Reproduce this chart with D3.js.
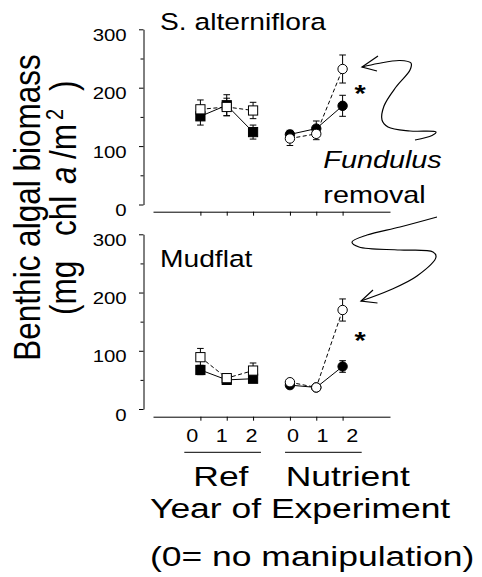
<!DOCTYPE html>
<html>
<head>
<meta charset="utf-8">
<script src="https://cdn.jsdelivr.net/npm/d3@7"></script>
<style>
  html, body { margin: 0; padding: 0; background: #fff; }
  svg { display: block; font-family: "Liberation Sans", Arial, sans-serif; }
  text { fill: #000; }
</style>
</head>
<body>
<svg id="chart" width="482" height="577"></svg>
<script>
// ---- data ---------------------------------------------------------------
const groups = ["Ref", "Nutrient"];
const years = [0, 1, 2];
const yearLabels = ["0", "1", "2", "0", "1", "2"];
// horizontal slot of each group/year pair (Nutrient block sits a little apart)
const slots = [0, 1, 2, 3.4, 4.4, 5.4];
const slotGroup = ["Ref", "Ref", "Ref", "Nutrient", "Nutrient", "Nutrient"];

const yTicks = [0, 100, 200, 300];
const yMinor = [50, 150, 250];

// S. alterniflora panel
const spartinaFilled   = [151, 170, 124, 120, 130, 169];
const spartinaFilledSE = [15, 18, 12, 7, 13, 18];
const spartinaOpen     = [163, 167, 161, 113, 121, 232];
const spartinaOpenSE   = [16, 15, 14, 12, 10, 24];

// Mudflat panel
const mudFilled   = [67, 50, 52, 41, 37, 73];
const mudFilledSE = [8, 4, 4, 4, 3, 10];
const mudOpen     = [89, 53, 66, 46, 37, 170];
const mudOpenSE   = [15, 5, 13, 4, 3, 19];

// ---- layout -------------------------------------------------------------
const SX = 1.2;                 // horizontal stretch of the lettering
const SXB = 1.29;               // stretch of the large captions under the axes
const svg = d3.select("#chart");
const axisX = 143.5;

const x = d3.scaleLinear().domain([-1.8, 7.2]).range([153, 390]);
const labelX = d3.scaleLinear().domain([0, 5.4]).range([191.7, 351.7]);

const panels = [
  { title: "S. alterniflora", titleY: 30, y0: 204.5, y300: 29.3, xAxisY: 211.7,
    filled: spartinaFilled, filledSE: spartinaFilledSE,
    open: spartinaOpen, openSE: spartinaOpenSE, star: 88 },
  { title: "Mudflat", titleY: 266.7, y0: 409, y300: 234.3, xAxisY: 416.7,
    filled: mudFilled, filledSE: mudFilledSE,
    open: mudOpen, openSE: mudOpenSE, star: 335 }
];

function label(parent, str, px, py, size, opts = {}) {
  const t = parent.append("text")
    .attr("transform", `translate(${px},${py}) scale(${opts.sx || SX},1)`)
    .attr("font-size", size)
    .attr("text-anchor", opts.anchor || "start")
    .text(str);
  if (opts.italic) t.attr("font-style", "italic");
  if (opts.weight) t.attr("font-weight", opts.weight);
  return t;
}

panels.forEach(p => {
  const y = d3.scaleLinear().domain([0, 300]).range([p.y0, p.y300]);
  const g = svg.append("g");

  // y axis: labelled ticks every 100, short ticks in between
  const yAxis = g.append("g")
    .attr("transform", `translate(${axisX},0)`)
    .call(d3.axisLeft(y).tickValues(yTicks).tickSize(4.5).tickSizeOuter(0).tickPadding(9.5));
  yAxis.selectAll("text")
    .attr("font-size", 17)
    .attr("font-family", "Liberation Sans, Arial, sans-serif")
    .attr("dy", "0.65em")
    .attr("transform", `scale(${SX},1)`);
  g.append("g")
    .attr("transform", `translate(${axisX},0)`)
    .call(d3.axisLeft(y).tickValues(yMinor).tickSize(3).tickSizeOuter(0).tickFormat(""))
    .select(".domain").remove();
  g.selectAll(".domain, .tick line").attr("stroke", "#000").attr("stroke-width", 1);

  // x axis: baseline with a tick under each year
  const xAxis = g.append("g")
    .attr("transform", `translate(0,${p.xAxisY})`)
    .call(d3.axisBottom(x).tickValues(slots).tickSize(4).tickSizeOuter(0).tickFormat(""));
  xAxis.selectAll(".domain, .tick line").attr("stroke", "#000").attr("stroke-width", 1);

  label(g, p.title, 160, p.titleY, 23.5);

  // connecting lines, one run per treatment block
  const line = d3.line().x(d => x(d.s)).y(d => y(d.v));
  const series = [
    { vals: p.filled, se: p.filledSE, fill: "#000", dash: null },
    { vals: p.open, se: p.openSE, fill: "#fff", dash: "4,2.5" }
  ];
  series.forEach(s => {
    groups.forEach(gr => {
      const pts = slots.map((sl, i) => ({ s: sl, v: s.vals[i], g: slotGroup[i] }))
        .filter(d => d.g === gr);
      g.append("path")
        .attr("d", line(pts))
        .attr("fill", "none")
        .attr("stroke", "#000")
        .attr("stroke-width", 1)
        .attr("stroke-dasharray", s.dash);
    });
  });

  // error bars
  series.forEach(s => {
    slots.forEach((sl, i) => {
      const cx = x(sl), hi = y(s.vals[i] + s.se[i]), lo = y(s.vals[i] - s.se[i]);
      const eb = g.append("g").attr("stroke", "#000").attr("stroke-width", 1);
      eb.append("line").attr("x1", cx).attr("x2", cx).attr("y1", hi).attr("y2", lo);
      eb.append("line").attr("x1", cx - 3.3).attr("x2", cx + 3.3).attr("y1", hi).attr("y2", hi);
      eb.append("line").attr("x1", cx - 3.3).attr("x2", cx + 3.3).attr("y1", lo).attr("y2", lo);
    });
  });

  // markers: squares for Ref, circles for Nutrient
  series.forEach(s => {
    slots.forEach((sl, i) => {
      const cx = x(sl), cy = y(s.vals[i]);
      if (slotGroup[i] === "Ref") {
        g.append("rect")
          .attr("x", cx - 4.6).attr("y", cy - 4.6)
          .attr("width", 9.2).attr("height", 9.2)
          .attr("fill", s.fill).attr("stroke", "#000").attr("stroke-width", 1);
      } else {
        g.append("circle")
          .attr("cx", cx).attr("cy", cy).attr("r", 4.7)
          .attr("fill", s.fill).attr("stroke", "#000").attr("stroke-width", 1);
      }
    });
  });

  // significance mark beside year 2 of the Nutrient block
  label(g, "*", 360, p.star + 13.5, 24, { anchor: "middle", weight: "bold" });
});

// ---- year labels and treatment names under the lower panel --------------
const bottom = svg.append("g").attr("transform", `translate(0,${panels[1].xAxisY})`);
bottom.call(d3.axisBottom(labelX).tickValues(slots).tickSize(0)
  .tickFormat((d, i) => yearLabels[i]));
bottom.select(".domain").remove();
bottom.selectAll("text")
  .attr("font-size", 18)
  .attr("font-family", "Liberation Sans, Arial, sans-serif")
  .attr("y", 25).attr("dy", 0)
  .attr("transform", `scale(${SX},1)`);

groups.forEach((gr, gi) => {
  const first = slots[gi * 3], last = slots[gi * 3 + 2];
  svg.append("line")
    .attr("x1", labelX(first) - 7.4).attr("x2", labelX(last) + 10)
    .attr("y1", 452.3).attr("y2", 452.3)
    .attr("stroke", "#000").attr("stroke-width", 1);
});
label(svg, "Ref", 193.3, 486, 27.5, { sx: SXB });
label(svg, "Nutrient", 285.7, 486, 27.5, { sx: SXB });
label(svg, "Year of Experiment", 150, 518, 27.5, { sx: SXB });
label(svg, "(0= no manipulation)", 150, 566, 27.5, { sx: SXB });

// ---- y axis title (two rotated lines) ------------------------------------
const yt1 = svg.append("g").attr("transform", `translate(40,207.5) scale(${SX},1) rotate(-90)`);
yt1.append("text").attr("font-size", 31.5).attr("text-anchor", "middle")
  .text("Benthic algal biomass");
// second line: local x runs upward, so x = -(screen y where each piece starts)
const yt2 = svg.append("g").attr("transform", `translate(76,0) scale(${SX},1) rotate(-90)`);
const t2 = yt2.append("text").attr("font-size", 31.5).attr("text-anchor", "start");
t2.append("tspan").attr("x", -315).text("(mg");
t2.append("tspan").attr("x", -236).text("chl");
t2.append("tspan").attr("x", -184).attr("font-style", "italic").text("a");
t2.append("tspan").attr("x", -159).text("/m");
t2.append("tspan").attr("x", -120).attr("font-size", 20).attr("dy", -11).text("2");
t2.append("tspan").attr("x", -91).attr("dy", 11).text(")");

// ---- Fundulus removal note with its two curly arrows -------------------
label(svg, "Fundulus", 323.3, 168.3, 24, { italic: true });
label(svg, "removal", 323.3, 203.3, 24);

const curvy = d3.line().curve(d3.curveCatmullRom.alpha(0.5));
const arrows = [
  { path: [[362, 67], [378, 63.5], [400, 60.5], [411, 63], [410, 70], [396, 87],
           [384, 106], [382, 120], [388, 127], [410, 131], [436, 132], [432, 135.5], [415, 140]],
    head: [[378, 56], [362, 67], [377, 71]] },
  { path: [[437, 217], [400, 227], [367, 235], [352, 242], [359, 247], [400, 250],
           [433, 252], [436, 257], [417, 276], [390, 290], [361, 301]],
    head: [[373, 290], [361, 301], [377.5, 303]] }
];
arrows.forEach(a => {
  svg.append("path").attr("d", curvy(a.path))
    .attr("fill", "none").attr("stroke", "#000").attr("stroke-width", 1.2);
  svg.append("path").attr("d", d3.line()(a.head))
    .attr("fill", "none").attr("stroke", "#000").attr("stroke-width", 1.2);
});
</script>
</body>
</html>
